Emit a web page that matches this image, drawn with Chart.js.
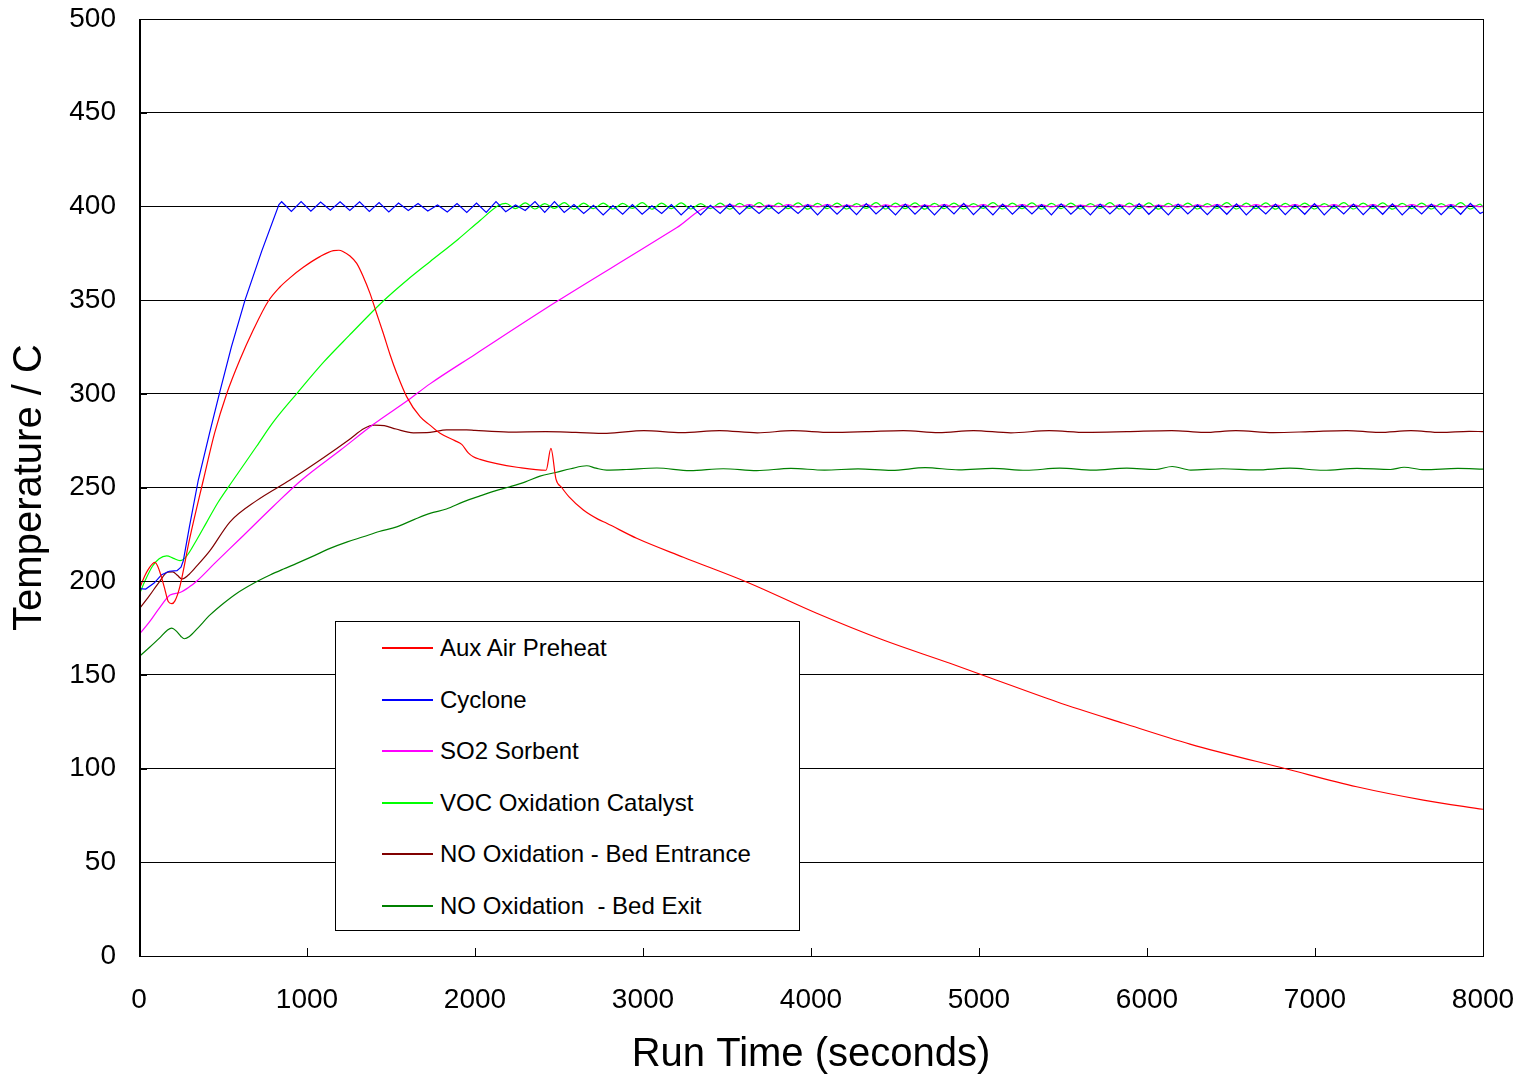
<!DOCTYPE html>
<html lang="en">
<head>
<meta charset="UTF-8" />
<title>Run Time Temperatures</title>
<script src="https://cdn.jsdelivr.net/npm/chart.js@4.4.1/dist/chart.umd.min.js"></script>
<style>
  html, body { margin: 0; padding: 0; background: #fff; overflow: hidden; }
  #wrap { position: relative; width: 1523px; height: 1075px; }
  #legend {
    position: absolute; left: 335px; top: 621px; width: 463px; height: 308px;
    background: #fff; border: 1px solid #000;
    font-family: "Liberation Sans", Arial, sans-serif; font-size: 24px; color: #000;
  }
  #legend .row { position: absolute; left: 0; height: 30px; display: flex; align-items: center; white-space: pre; }
  #legend .swatch { width: 51px; height: 2px; margin-left: 46px; margin-right: 7px; }
</style>
</head>
<body>
<div id="wrap">
  <canvas id="tempChart" width="1523" height="1075"></canvas>
  <div id="legend"></div>
</div>
<script>
// logged sample times once the controllers start cycling around the 400 C setpoint
const cycleTime = [
  849, 907, 965, 1023, 1081, 1139, 1197, 1255, 1313, 1371,
  1429, 1487, 1545, 1603, 1661, 1719, 1777, 1835, 1893, 1951,
  2009, 2067, 2125, 2183, 2241, 2299, 2357, 2415, 2473, 2531,
  2589, 2647, 2705, 2763, 2821, 2879, 2937, 2995, 3053, 3111,
  3169, 3227, 3285, 3343, 3401, 3459, 3517, 3575, 3633, 3691,
  3749, 3807, 3865, 3923, 3981, 4039, 4097, 4155, 4213, 4271,
  4329, 4387, 4445, 4503, 4561, 4619, 4677, 4735, 4793, 4851,
  4909, 4967, 5025, 5083, 5141, 5199, 5257, 5315, 5373, 5431,
  5489, 5547, 5605, 5663, 5721, 5779, 5837, 5895, 5953, 6011,
  6069, 6127, 6185, 6243, 6301, 6359, 6417, 6475, 6533, 6591,
  6649, 6707, 6765, 6823, 6881, 6939, 6997, 7055, 7113, 7171,
  7229, 7287, 7345, 7403, 7461, 7519, 7577, 7635, 7693, 7751,
  7809, 7867, 7925, 7983, 8000
];

// Aux Air Preheat
const auxTime = [0, 30, 60, 95, 120, 150, 175, 195, 214, 244, 300, 383, 450, 522, 600, 680, 770, 839, 900, 978,
  1077, 1157, 1190, 1216, 1256, 1296, 1335, 1375, 1414, 1454, 1494, 1534, 1593, 1673, 1732, 1792, 1880, 1921, 1960, 1990,
  2030, 2129, 2250, 2423, 2452, 2482, 2516, 2560, 2645, 2734, 2784, 2962, 3240, 3627, 4034, 4430, 4827, 5065, 5462, 5859,
  6256, 6831, 7248, 7645, 8000];
const auxTemp = [195.3, 202, 207, 210, 206, 197, 189, 188, 189.5, 197.4, 222, 254, 279, 300, 318, 334, 349.5, 357, 362, 367.5,
  373.2, 376.4, 376.6, 375.8, 373.5, 369.6, 362.5, 353.6, 343, 332.3, 321, 311, 298.5, 287.8, 283.3, 278.9, 275, 273, 268.5, 266.4,
  265, 262.7, 260.8, 259.2, 270.9, 254.5, 250, 245, 238, 233, 230.9, 222.9, 212.8, 199.2, 182.9, 168.6, 156.2, 148.5, 135.7, 124.2,
  113.1, 99.8, 90.3, 83.2, 78.3];

// Cyclone
const cycloneRampTime = [0, 40, 90, 135, 180, 226, 250, 264, 300, 353, 420, 478, 550, 631, 730, 833];
const cycloneRampTemp = [196, 195.8, 199, 203.5, 205.3, 205.6, 207.5, 211, 229, 254, 279, 300, 325, 350, 376, 401];
const cycloneCycleTemp = [
  402.5, 397.3, 402.6, 397.4, 402.3, 398.0, 402.5, 397.8, 402.4, 397.3,
  402.0, 397.0, 401.8, 397.8, 401.6, 397.6, 400.8, 397.0, 401.5, 396.8,
  401.8, 396.8, 402.6, 397.2, 400.8, 397.8, 402.6, 396.8, 402.6, 396.8,
  401.0, 396.2, 400.6, 395.5, 400.5, 395.8, 401.0, 395.8, 400.3, 396.2,
  401.0, 395.5, 400.5, 395.5, 400.6, 396.2, 401.3, 395.8, 400.6, 396.2,
  400.6, 396.2, 400.6, 396.2, 401.0, 395.5, 401.0, 395.8, 400.8, 395.6,
  401.5, 396.0, 400.6, 395.5, 401.2, 395.8, 400.8, 395.5, 401.0, 396.0,
  401.6, 395.6, 400.7, 395.5, 401.2, 395.8, 400.8, 396.0, 401.0, 395.5,
  401.4, 395.8, 400.6, 395.5, 401.2, 396.0, 400.8, 395.6, 401.5, 395.8,
  400.7, 395.5, 401.2, 396.0, 400.8, 395.6, 401.0, 395.8, 401.4, 395.5,
  400.6, 396.0, 401.2, 395.6, 400.8, 395.8, 401.5, 395.5, 400.7, 396.0,
  401.2, 395.6, 400.8, 395.8, 401.4, 395.5, 400.6, 396.0, 401.2, 395.6,
  400.8, 395.8, 401.6, 396.2, 397.0
];

// SO2 Sorbent
const so2RampTime = [0, 60, 120, 185, 244, 300, 343, 450, 600, 800, 968, 1200, 1400, 1603, 1732, 2000, 2486, 3000, 3200, 3401];
const so2RampTemp = [171.5, 178, 185.5, 192.6, 194, 197, 200, 209.5, 222.5, 240, 254, 270, 284, 296.7, 305.3, 321, 349.2, 377.5, 388.6, 399.8];
const so2CycleTemp = [
  399.6, 400.8, 399.7, 400.9, 399.5, 400.7, 399.8, 400.9, 399.6, 400.8,
  399.7, 400.9, 399.5, 400.7, 399.8, 400.9, 399.6, 400.8, 399.7, 400.9,
  399.5, 400.7, 399.8, 400.9, 399.6, 400.8, 399.7, 400.9, 399.5, 400.7,
  399.8, 400.9, 399.6, 400.8, 399.7, 400.9, 399.5, 400.7, 399.8, 400.9,
  399.6, 400.8, 399.7, 400.9, 399.5, 400.7, 399.8, 400.9, 399.6, 400.8,
  399.7, 400.9, 399.5, 400.7, 399.8, 400.9, 399.6, 400.8, 399.7, 400.9,
  399.5, 400.7, 399.8, 400.9, 399.6, 400.8, 399.7, 400.9, 399.5, 400.7,
  399.8, 400.9, 399.6, 400.8, 399.7, 400.9, 399.5, 400.7, 399.8, 400.3
];

// VOC Oxidation Catalyst
const vocRampTime = [0, 40, 80, 120, 165, 205, 244, 280, 343, 400, 470, 561, 700, 800, 938, 1100, 1250, 1454, 1600, 1732, 1900, 2030, 2140];
const vocRampTemp = [192.6, 201, 208, 212, 213.5, 212.2, 211, 213, 222, 231, 242, 254, 272, 285, 300, 317, 331, 349.5, 361, 370.5, 382.5, 392.5, 400.5];
const vocCycleTemp = [
  401.6, 398.8, 401.9, 398.6, 401.5, 398.9, 402.0, 398.5, 401.7, 398.8,
  401.8, 398.6, 401.6, 398.9, 402.0, 398.5, 401.7, 398.8, 401.9, 398.6,
  401.5, 398.8, 401.8, 398.5, 401.6, 398.9, 402.0, 398.6, 401.7, 398.8,
  401.9, 398.5, 401.6, 398.8, 401.8, 398.6, 401.5, 398.9, 402.0, 398.6,
  401.7, 398.8, 401.9, 398.5, 401.6, 398.8, 401.8, 398.6, 401.5, 398.9,
  402.0, 398.6, 401.7, 398.8, 401.9, 398.5, 401.6, 398.8, 401.8, 398.6,
  401.5, 398.9, 402.0, 398.6, 401.7, 398.8, 401.9, 398.5, 401.6, 398.8,
  401.8, 398.6, 401.5, 398.9, 402.0, 398.6, 401.7, 398.8, 401.9, 398.5,
  401.6, 398.8, 401.8, 398.6, 401.5, 398.9, 402.0, 398.6, 401.7, 398.8,
  401.9, 398.5, 401.6, 398.8, 401.8, 398.6, 401.5, 398.9, 402.0, 398.6,
  401.2, 399.6
];

// NO Oxidation - Bed Entrance
const bedInTime = [0, 60, 120, 170, 200, 230, 254, 290, 343, 420, 542, 700, 899, 1100, 1250, 1340, 1400, 1460, 1530, 1633,
  1732, 1831, 1950, 2000, 2200, 2420, 2600, 2784, 3005, 3230, 3456, 3680, 3890, 4120, 4330, 4550, 4760, 4967, 5190, 5418,
  5640, 5880, 6147, 6340, 6529, 6750, 6970, 7189, 7380, 7571, 7750, 7918, 8000];
const bedInTemp = [185, 192, 199.5, 204.8, 205, 203, 201.2, 203, 208, 216, 231.7, 243, 254, 266, 275.5, 281.5, 283.3, 283, 281.2, 279.2,
  279.4, 280.7, 280.8, 280.5, 279.6, 279.8, 279.4, 278.9, 280.4, 279.3, 280.4, 279.2, 280.3, 279.4, 279.8, 280.4, 279.3, 280.4, 279.2, 280.3,
  279.4, 279.8, 280.4, 279.4, 280.3, 279.3, 279.8, 280.4, 279.4, 280.3, 279.4, 280.0, 279.8];

// NO Oxidation - Bed Exit
const bedOutTime = [0, 60, 120, 170, 195, 224, 250, 270, 300, 350, 423, 500, 581, 680, 780, 860, 939, 1040, 1137, 1240,
  1335, 1430, 1534, 1640, 1732, 1830, 1930, 2030, 2120, 2208, 2300, 2387, 2480, 2570, 2665, 2720, 2784, 2900, 3082, 3280,
  3478, 3677, 3880, 4080, 4280, 4480, 4680, 4880, 5080, 5280, 5480, 5680, 5880, 6050, 6150, 6260, 6450, 6650, 6850, 7050,
  7250, 7450, 7530, 7650, 7850, 8000];
const bedOutTemp = [159.7, 164.5, 169.5, 174, 175, 173.2, 170.5, 169.3, 170.5, 175, 182, 188, 193.5, 198.8, 203.3, 206.5, 209.5, 213.5, 217.5, 221,
  223.7, 226.5, 229, 233, 236.2, 238.5, 242.3, 245.5, 248.2, 250.4, 253, 256.1, 258, 260, 261.6, 260.3, 259.3, 259.6, 260.4, 259.0,
  260.0, 259.0, 260.2, 259.3, 259.9, 259.1, 260.6, 259.4, 260.2, 259.2, 260.3, 259.3, 260.3, 259.6, 261.2, 259.3, 260.0, 259.4, 260.3, 259.2,
  260.2, 259.6, 260.8, 259.5, 260.2, 259.8];

const yTicks = [0, 50, 100, 150, 200, 250, 300, 350, 400, 450, 500];

function toPoints(times, temps) {
  return times.map((t, i) => ({ x: t, y: temps[i] }));
}

// ramp section followed by the tail of the shared cycling time base
function withCycle(rampTime, rampTemp, cycleTemp) {
  const tail = cycleTime.slice(cycleTime.length - cycleTemp.length);
  return toPoints(rampTime.concat(tail), rampTemp.concat(cycleTemp));
}

const FONT = '"Liberation Sans", Arial, sans-serif';

function line(label, color, data, cubic) {
  return {
    label: label,
    data: data,
    borderColor: color,
    backgroundColor: color,
    borderWidth: 1.2,
    pointRadius: 0,
    fill: false,
    cubicInterpolationMode: cubic ? 'monotone' : 'default',
    tension: 0,
  };
}

// fixed axis sizes so the plot box sits where the layout padding puts it
function fixSize(prop, size) {
  return (scale) => {
    scale[prop] = size;
    scale.paddingLeft = 0;
    scale.paddingRight = 0;
    scale.paddingTop = 0;
    scale.paddingBottom = 0;
  };
}

// black box round the plot plus short ticks pointing inward
const plotFrame = {
  id: 'plotFrame',
  afterDatasetsDraw(chart) {
    const { ctx, chartArea: a, scales: { x, y } } = chart;
    ctx.save();
    ctx.strokeStyle = '#000';
    ctx.lineWidth = 1;
    ctx.strokeRect(Math.round(a.left) + 0.5, Math.round(a.top) + 0.5,
      Math.round(a.right - a.left), Math.round(a.bottom - a.top));
    ctx.beginPath();
    x.ticks.forEach((t) => {
      const px = Math.round(x.getPixelForValue(t.value)) + 0.5;
      ctx.moveTo(px, a.bottom);
      ctx.lineTo(px, a.bottom - 8);
    });
    y.ticks.forEach((t) => {
      const py = Math.round(y.getPixelForValue(t.value)) + 0.5;
      ctx.moveTo(a.left, py);
      ctx.lineTo(a.left + 8, py);
    });
    ctx.stroke();
    // left axis is drawn a touch heavier
    ctx.lineWidth = 2;
    ctx.beginPath();
    ctx.moveTo(Math.round(a.left) + 1, a.top);
    ctx.lineTo(Math.round(a.left) + 1, a.bottom + 1);
    ctx.stroke();
    ctx.restore();
  }
};

const chart = new Chart(document.getElementById('tempChart'), {
  type: 'line',
  data: {
    datasets: [
      line('Aux Air Preheat', '#ff0000', toPoints(auxTime, auxTemp), true),
      line('Cyclone', '#0000ff', withCycle(cycloneRampTime, cycloneRampTemp, cycloneCycleTemp), false),
      line('SO2 Sorbent', '#ff00ff', withCycle(so2RampTime, so2RampTemp, so2CycleTemp), true),
      line('VOC Oxidation Catalyst', '#00ff00', withCycle(vocRampTime, vocRampTemp, vocCycleTemp), true),
      line('NO Oxidation - Bed Entrance', '#800000', toPoints(bedInTime, bedInTemp), true),
      line('NO Oxidation  - Bed Exit', '#008000', toPoints(bedOutTime, bedOutTemp), true),
    ]
  },
  options: {
    responsive: false,
    devicePixelRatio: 1,
    animation: false,
    layout: { padding: { top: 19, right: 40, left: 0, bottom: 0 } },
    plugins: {
      legend: { display: false },
      tooltip: { enabled: false },
    },
    scales: {
      x: {
        type: 'linear',
        min: 0,
        max: 8000,
        afterFit: fixSize('height', 119),
        ticks: {
          stepSize: 1000,
          padding: 27,
          color: '#000',
          font: { family: FONT, size: 28 },
          callback: (v) => String(v),
        },
        grid: { display: false, drawTicks: false },
        border: { display: false },
        title: {
          display: true,
          text: 'Run Time (seconds)',
          color: '#000',
          font: { family: FONT, size: 40, lineHeight: 1 },
          padding: 0,
        },
      },
      y: {
        type: 'linear',
        min: 0,
        max: 500,
        afterFit: fixSize('width', 139),
        afterBuildTicks: (scale) => { scale.ticks = yTicks.map((v) => ({ value: v })); },
        ticks: { padding: 23, color: '#000', font: { family: FONT, size: 28 }, callback: (v) => String(v) },
        grid: { color: '#000', lineWidth: 1, drawTicks: false },
        border: { display: false },
        title: {
          display: true,
          text: 'Temperature / C',
          color: '#000',
          font: { family: FONT, size: 40, lineHeight: 1 },
          padding: { top: 10, bottom: 0 },
        },
      },
    },
  },
  plugins: [plotFrame],
});

// legend box drawn in the lower middle of the plot
const legendEl = document.getElementById('legend');
chart.data.datasets.forEach((ds, i) => {
  const row = document.createElement('div');
  row.className = 'row';
  row.style.top = Math.round(11 + i * 51.5) + 'px';
  const sw = document.createElement('div');
  sw.className = 'swatch';
  sw.style.background = ds.borderColor;
  const txt = document.createElement('span');
  txt.textContent = ds.label;
  row.appendChild(sw);
  row.appendChild(txt);
  legendEl.appendChild(row);
});
</script>
</body>
</html>
